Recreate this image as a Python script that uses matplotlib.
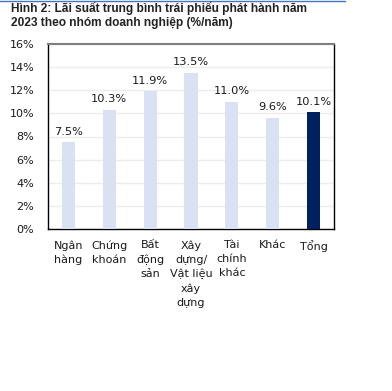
import matplotlib
matplotlib.use("Agg")
import matplotlib.pyplot as plt
from matplotlib.lines import Line2D

categories = ["Ngân\nhàng", "Chứng\nkhoán", "Bất\nđộng\nsản", "Xây\ndựng/\nVật liệu\nxây\ndựng",
              "Tài\nchính\nkhác", "Khác", "Tổng"]
values = [7.5, 10.3, 11.9, 13.5, 11.0, 9.6, 10.1]
value_labels = ["7.5%", "10.3%", "11.9%", "13.5%", "11.0%", "9.6%", "10.1%"]
yticks = [0, 2, 4, 6, 8, 10, 12, 14, 16]
ytick_labels = ["0%", "2%", "4%", "6%", "8%", "10%", "12%", "14%", "16%"]

W, H = 392, 391
fig = plt.figure(figsize=(W / 100, H / 100), dpi=100)
ax = fig.add_axes([48 / W, 1 - 229 / H, (334 - 48) / W, (229 - 44) / H])

colors = ["#D9E1F2"] * 6 + ["#002060"]
x = list(range(len(values)))
ax.bar(x, values, width=0.32, color=colors, zorder=3)
for xi, v, lab in zip(x, values, value_labels):
    ax.annotate(lab, (xi, v), xytext=(0, 4), textcoords="offset points",
                ha="center", va="bottom", fontsize=8.2, color="#1a1a1a", zorder=4)

ax.set_xlim(-0.5, len(values) - 0.5)
ax.set_ylim(0, 16)
ax.set_yticks(yticks)
ax.set_yticklabels(ytick_labels, fontsize=8, color="#1a1a1a")
ax.set_xticks(x)
ax.set_xticklabels(categories, fontsize=8, color="#1a1a1a", linespacing=1.5, va="top")
ax.tick_params(axis="both", length=0)
ax.tick_params(axis="y", pad=10)
ax.tick_params(axis="x", pad=8)
ax.yaxis.grid(True, color="#EDEDED", linewidth=1, zorder=0)
ax.set_axisbelow(True)
for s in ["left", "right", "bottom"]:
    ax.spines[s].set_color("black")
    ax.spines[s].set_linewidth(1.0)
ax.spines["top"].set_color("#7F7F7F")
ax.spines["top"].set_linewidth(1.5)

fig.text(11 / W, 1 - 8.5 / H, "Hình 2: Lãi suất trung bình trái phiếu phát hành năm",
         fontsize=8.6, fontweight="bold", family="Liberation Sans", color="#222222",
         ha="left", va="center")
fig.text(11 / W, 1 - 22.5 / H, "2023 theo nhóm doanh nghiệp (%/năm)",
         fontsize=8.6, fontweight="bold", family="Liberation Sans", color="#222222",
         ha="left", va="center")
fig.add_artist(Line2D([0, 345 / W], [1 - 0.5 / H, 1 - 0.5 / H], color="#4472C4",
                      linewidth=1.0, transform=fig.transFigure))

fig.savefig("out.png", dpi=100, facecolor="white")
